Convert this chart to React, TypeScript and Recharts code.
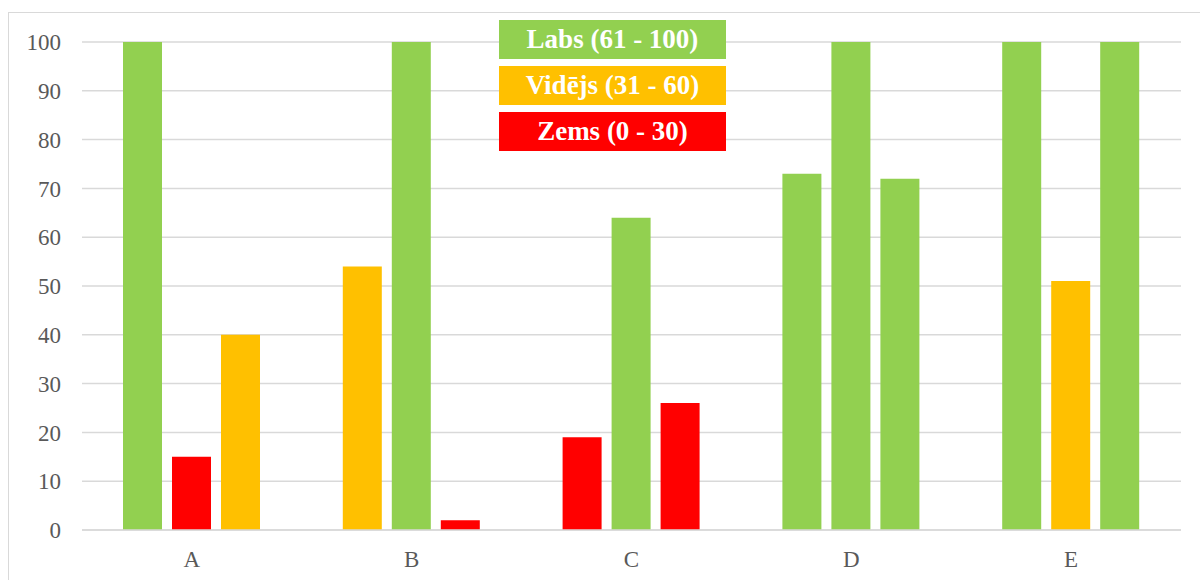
import React from 'react';
import { BarChart, Bar, XAxis, YAxis, CartesianGrid, Cell } from 'recharts';

const categories = ['A', 'B', 'C', 'D', 'E'];
const series1 = [100, 54, 19, 73, 100];
const series2 = [15, 100, 64, 100, 51];
const series3 = [40, 2, 26, 72, 100];
const yTicks = [0, 10, 20, 30, 40, 50, 60, 70, 80, 90, 100];

const bandLabels = ['Labs (61 - 100)', 'Vidējs (31 - 60)', 'Zems (0 - 30)'];
const bandColors = ['#92D050', '#FFC000', '#FF0000'];
const bandMins = [61, 31, 0];

const colorFor = (v: number) => {
  for (let i = 0; i < bandMins.length; i++) {
    if (v >= bandMins[i]) return bandColors[i];
  }
  return bandColors[bandColors.length - 1];
};

const data = categories.map((c, i) => ({
  name: c,
  s1: series1[i],
  s2: series2[i],
  s3: series3[i],
}));

const FONT = '"Liberation Serif", "Times New Roman", serif';

const LegendBoxes = () => (
  <div style={{ position: 'absolute', left: 499, top: 20, width: 227 }}>
    {bandLabels.map((l, i) => (
      <div
        key={l}
        style={{
          width: 227,
          height: 39,
          marginBottom: 7,
          background: bandColors[i],
          color: '#ffffff',
          fontFamily: FONT,
          fontWeight: 'bold',
          fontSize: 27,
          lineHeight: '39px',
          textAlign: 'center',
          whiteSpace: 'nowrap',
        }}
      >
        {l}
      </div>
    ))}
  </div>
);

const keys = ['s1', 's2', 's3'];

export default function App() {
  return (
    <div style={{ position: 'absolute', left: 0, top: 0, width: 1200, height: 580, overflow: 'hidden', background: '#fff' }}>
      <div
        style={{
          position: 'absolute',
          left: 8,
          top: 12,
          width: 1250,
          height: 620,
          border: '1.5px solid #d9d9d9',
          boxSizing: 'border-box',
        }}
      />
      <div style={{ position: 'absolute', left: 0, top: 0 }}>
        <BarChart
          width={1200}
          height={580}
          data={data}
          margin={{ top: 42, right: 19, bottom: 0, left: 0 }}
          barCategoryGap={41}
          barGap={10}
        >
          <CartesianGrid horizontal vertical={false} stroke="#d9d9d9" strokeWidth={1.5} />
          <XAxis
            dataKey="name"
            axisLine={{ stroke: '#d9d9d9', strokeWidth: 1.5 }}
            tickLine={false}
            tickSize={0}
            tickMargin={21}
            tick={{ fill: '#595959', fontSize: 23, fontFamily: FONT }}
            height={50}
          />
          <YAxis
            domain={[0, 100]}
            ticks={yTicks}
            axisLine={false}
            tickLine={false}
            tickSize={0}
            tickMargin={21}
            width={82}
            interval={0}
            tick={{ fill: '#595959', fontSize: 23, fontFamily: FONT }}
          />
          {keys.map((k) => (
            <Bar key={k} dataKey={k} isAnimationActive={false} legendType="none">
              {data.map((d, i) => (
                <Cell key={i} fill={colorFor((d as any)[k])} />
              ))}
            </Bar>
          ))}
        </BarChart>
      </div>
      <LegendBoxes />
    </div>
  );
}
